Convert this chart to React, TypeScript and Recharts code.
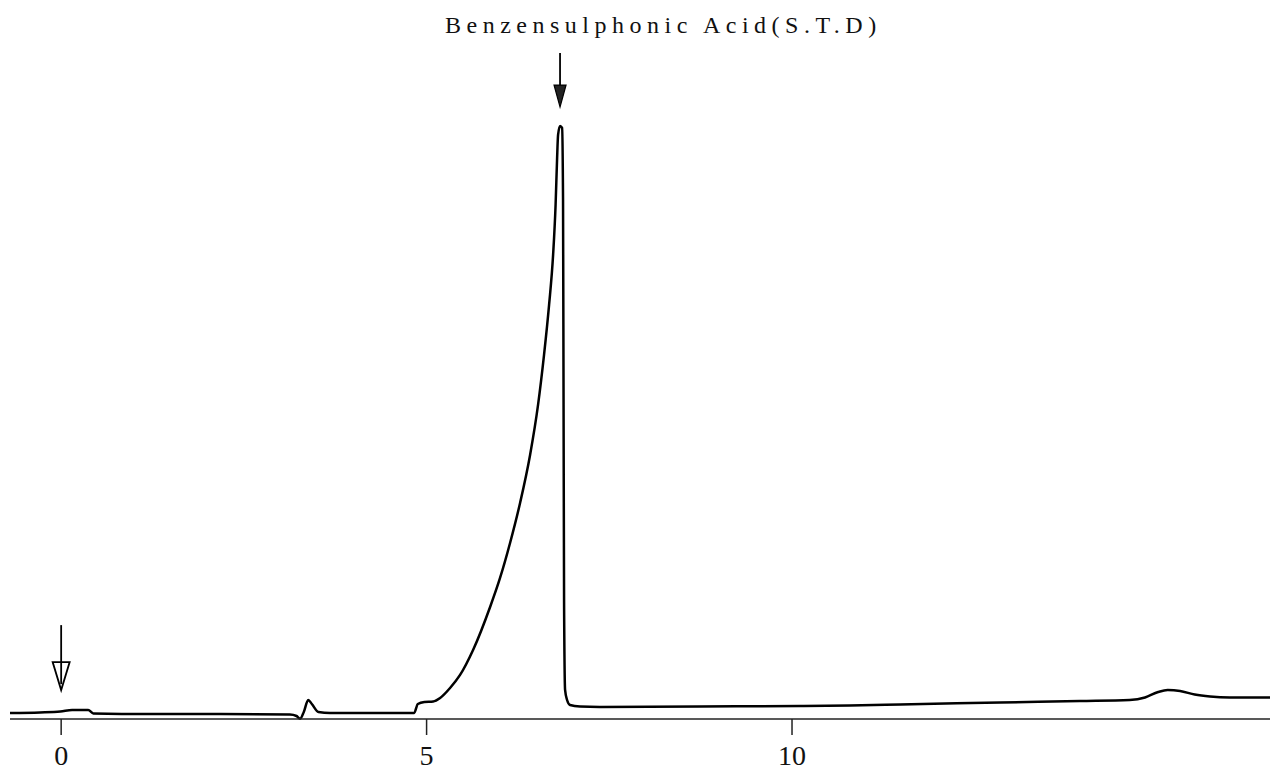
import React from 'react';
import { LineChart, Line, XAxis, YAxis, ReferenceDot } from 'recharts';

// retention time (min) and detector signal (arbitrary units)
const time = [
  -0.7, -0.29, -0.01, 0.15, 0.37, 0.44, 1.22, 2.18, 3.13, 3.22, 3.27, 3.32, 3.38, 3.43, 3.52, 3.68,
  4.36, 4.83, 4.88, 4.97, 5.09, 5.185, 5.321, 5.458, 5.636, 5.869, 6.005, 6.142, 6.279, 6.416, 6.525,
  6.607, 6.676, 6.731, 6.765, 6.785, 6.799, 6.826, 6.854, 6.867, 6.874, 6.881, 6.895,
  6.922, 6.963, 7.1, 7.37, 8.74, 10.11, 10.79, 11.48, 12.85, 13.94, 14.62, 14.83, 15.01, 15.14,
  15.31, 15.51, 15.72, 15.99, 16.54,
];
const signal = [
  0, 0.1, 0.25, 0.5, 0.5, -0.08, -0.17, -0.17, -0.25, -0.5, -0.95, 0.17, 2.16, 1.5, 0.17, 0,
  0, 0, 1.5, 1.83, 1.91, 2.49, 4.15, 6.32, 10.47, 17.62, 22.44, 28.25, 34.9, 42.88, 51.19,
  59.5, 67.81, 76.12, 84.43, 91.91, 96.06, 97.56, 97.23, 85.26, 52.02, 18.78, 3.82,
  2.16, 1.33, 1.08, 1.0, 1.08, 1.16, 1.25, 1.41, 1.75, 1.99, 2.16, 2.58, 3.49, 3.82,
  3.66, 3.07, 2.74, 2.58, 2.58,
];
const xTicks = [0, 5, 10];
const title = 'Benzensulphonic Acid(S.T.D)';
// arrow tips: injection point and the standard's peak
const injection = { t: 0, v: 3.8 };
const peakMark = { t: 6.826, v: 100.7 };

const data = time.map((t, i) => ({ t, v: signal[i] }));

const OpenArrow = (props: any) => {
  const { cx, cy } = props;
  return (
    <g>
      <polygon
        points={`${cx - 8.5},${cy - 28} ${cx + 8.5},${cy - 28} ${cx},${cy}`}
        fill="#fff"
        stroke="#000"
        strokeWidth={1.8}
      />
      <line x1={cx} y1={cy - 65} x2={cx} y2={cy - 6} stroke="#000" strokeWidth={1.8} />
    </g>
  );
};

const FilledArrow = (props: any) => {
  const { cx, cy } = props;
  return (
    <g>
      <line x1={cx} y1={cy - 54} x2={cx} y2={cy - 18} stroke="#000" strokeWidth={1.8} />
      <polygon
        points={`${cx - 6},${cy - 22} ${cx + 6},${cy - 22} ${cx},${cy}`}
        fill="#222"
        stroke="#000"
        strokeWidth={1.2}
      />
    </g>
  );
};

export default function App() {
  return (
    <div style={{ position: 'absolute', left: 0, top: 0, width: 1287, height: 772, background: '#fff' }}>
      <div
        style={{
          position: 'absolute',
          left: 445,
          top: 13,
          fontFamily: '"Liberation Serif", serif',
          fontSize: 24,
          lineHeight: 1,
          letterSpacing: 5.5,
          color: '#111',
          whiteSpace: 'pre',
        }}
      >
        {title}
      </div>
      <LineChart width={1287} height={772} data={data} margin={{ top: 27, right: 17, left: 10, bottom: 0 }}>
        <XAxis
          type="number"
          dataKey="t"
          domain={[-0.7, 16.54]}
          ticks={xTicks}
          tickSize={16}
          tickMargin={10}
          height={53}
          stroke="#222"
          strokeWidth={1.5}
          tick={{ fill: '#111', fontSize: 28, fontFamily: '"Liberation Serif", serif' }}
        />
        <YAxis hide domain={[-1, 114]} />
        <Line
          type="monotone"
          dataKey="v"
          stroke="#000"
          strokeWidth={2.5}
          dot={false}
          isAnimationActive={false}
        />
        <ReferenceDot x={injection.t} y={injection.v} ifOverflow="visible" shape={OpenArrow} />
        <ReferenceDot x={peakMark.t} y={peakMark.v} ifOverflow="visible" shape={FilledArrow} />
      </LineChart>
    </div>
  );
}
